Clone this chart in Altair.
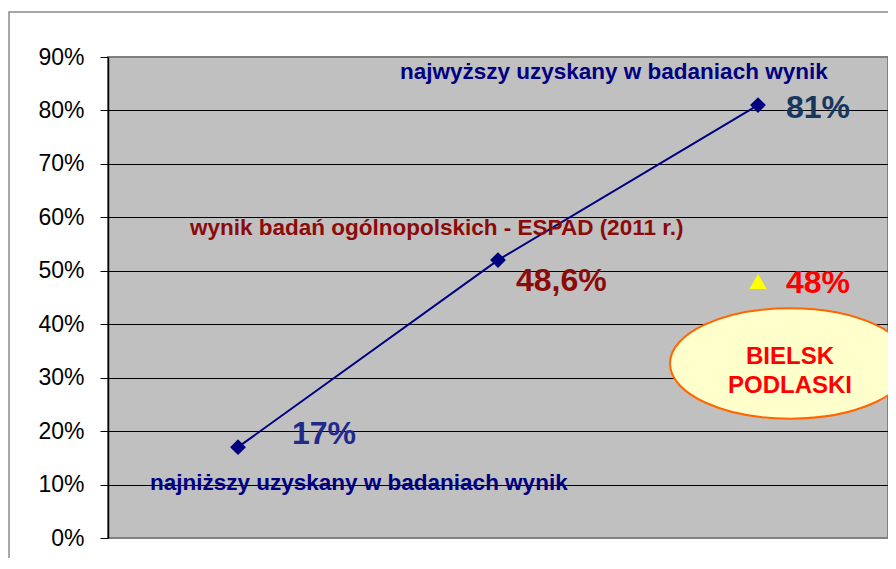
import altair as alt
import pandas as pd

categories = ["najniższy", "ESPAD 2011", "najwyższy"]
values = [17, 52, 81]
value_labels = ["17%", "48,6%", "81%"]
desc_labels = [
    "najniższy uzyskany w badaniach wynik",
    "wynik badań ogólnopolskich - ESPAD (2011 r.)",
    "najwyższy uzyskany w badaniach wynik",
]
bielsk_category = ["najwyższy"]
bielsk_value = [48]
bielsk_label = ["48%"]
bielsk_name = ["BIELSK\nPODLASKI"]
y_ticks = [0, 10, 20, 30, 40, 50, 60, 70, 80, 90]

FONT = "Liberation Sans"

df = pd.DataFrame({"cat": categories, "val": values, "vlab": value_labels, "desc": desc_labels})
bdf = pd.DataFrame({"cat": bielsk_category, "val": bielsk_value, "lab": bielsk_label, "name": bielsk_name})

xenc = alt.X("cat:N", sort=categories,
             scale=alt.Scale(type="point", domain=categories, padding=0.5), axis=None)
yenc = alt.Y("val:Q", scale=alt.Scale(domain=[0, 90]),
             axis=alt.Axis(values=y_ticks, labelExpr="datum.value + '%'", title=None,
                           grid=True, gridColor="black", gridWidth=1,
                           gridOpacity={"condition": {"test": "datum.value == 0 || datum.value == 90", "value": 0}, "value": 1},
                           domainColor="black", domainWidth=1.5,
                           tickColor="black", tickSize=8, tickWidth=1,
                           labelFont=FONT, labelFontSize=23, labelColor="black",
                           labelPadding=16))

base = alt.Chart(df).encode(x=xenc, y=yenc)
bbase = alt.Chart(bdf).encode(x=xenc, y=yenc)

frame = alt.Chart(alt.Data(values=[{}])).mark_rect(
    fill=None, stroke="#8a8a8a", strokeWidth=1.5, clip=False
).encode(x=alt.value(-99), y=alt.value(-45), x2=alt.value(1000), y2=alt.value(700))

line = base.mark_line(color="#000080", strokeWidth=2)
pts = base.mark_point(shape="diamond", filled=True, color="#000080", size=250, opacity=1)

ellipse = bbase.mark_point(
    shape="M -1 0 A 1 0.46 0 1 1 1 0 A 1 0.46 0 1 1 -1 0 Z",
    filled=True, fill="#FFFFCC", stroke="#FF6600", strokeWidth=2,
    opacity=1, fillOpacity=1, size=57600, xOffset=32, yOffset=82,
)
tri = bbase.mark_point(shape="triangle-up", filled=True, color="#FFFF00", size=300, opacity=1)


def annot(src, cat, field, dx, dy, color, size, align="left"):
    return src.transform_filter(alt.datum.cat == cat).mark_text(
        dx=dx, dy=dy, align=align, baseline="middle", font=FONT,
        fontWeight="bold", fontSize=size, color=color, lineBreak="\n", lineHeight=29,
    ).encode(text=f"{field}:N")


texts = [
    annot(base, categories[0], "vlab", 54, -13, "#1F2A8C", 32),
    annot(base, categories[0], "desc", -88, 36, "#000080", 22.5),
    annot(base, categories[1], "vlab", 18, 21, "#8B0A0A", 32),
    annot(base, categories[1], "desc", -308, -32, "#8B0A0A", 22.5),
    annot(base, categories[2], "vlab", 28, 3, "#17375E", 32),
    annot(base, categories[2], "desc", -358, -33, "#000080", 22.5),
    annot(bbase, bielsk_category[0], "lab", 28, 2, "#FF0000", 32),
    annot(bbase, bielsk_category[0], "name", 32, 76, "#FF0000", 24, align="center"),
]

chart = alt.layer(frame, line, pts, ellipse, tri, *texts).properties(
    width=780, height=481,
    autosize=alt.AutoSizeParams(type="none"),
    padding={"left": 100, "top": 49, "right": 0, "bottom": 20},
).configure_view(fill="#C0C0C0", stroke="#808080", strokeWidth=2)

chart.save("out.html", embed_options={"renderer": "svg", "actions": False})
